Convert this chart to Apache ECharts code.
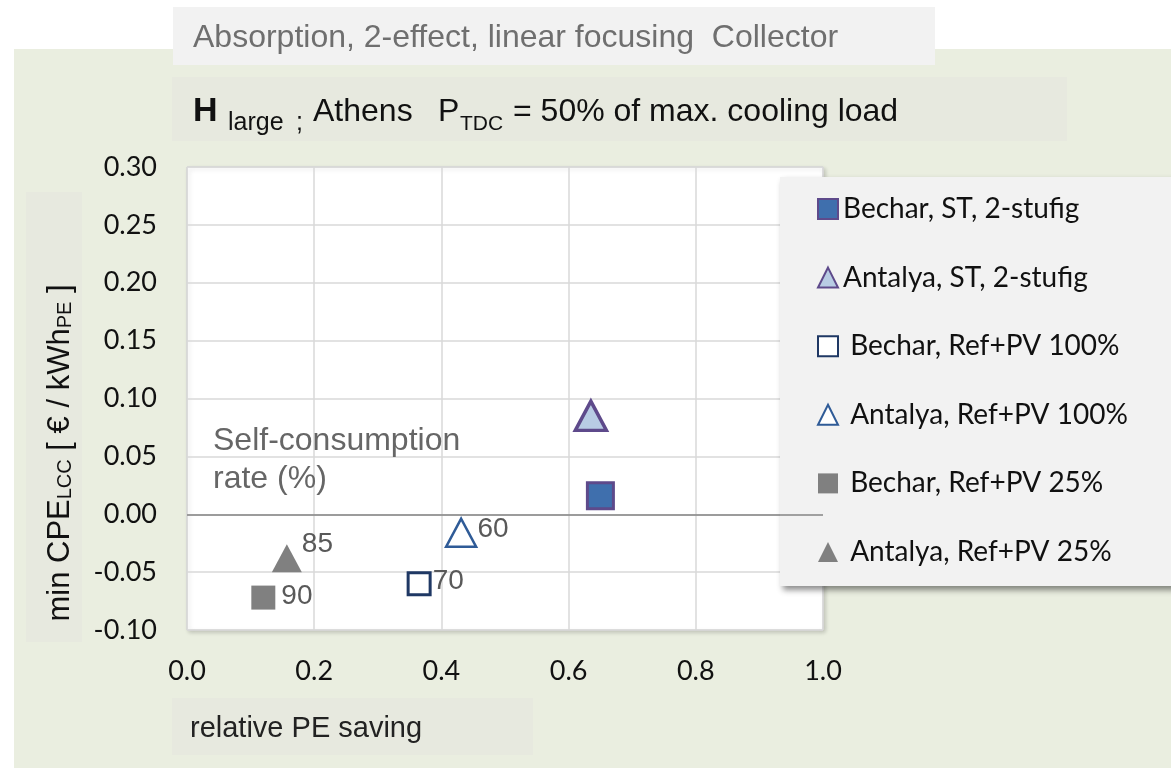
<!DOCTYPE html>
<html>
<head>
<meta charset="utf-8">
<script src="https://cdn.jsdelivr.net/npm/echarts@6/dist/echarts.min.js"></script>
<style>
html,body{margin:0;padding:0;background:#fff;}
#chart{width:1171px;height:768px;}
</style>
</head>
<body>
<div id="chart"></div>
<script>
// ---- data ----
const seriesNames = [
  'Bechar, ST, 2-stufig',
  'Antalya, ST, 2-stufig',
  'Bechar, Ref+PV 100%',
  'Antalya, Ref+PV 100%',
  'Bechar, Ref+PV 25%',
  'Antalya, Ref+PV 25%'
];
const peSaving = [0.650, 0.635, 0.365, 0.431, 0.120, 0.157];
const minCPE   = [0.016, 0.085, -0.060, -0.016, -0.072, -0.038];
const rateLabels = ['', '', '70', '60', '90', '85'];
const xTicks = [0.0, 0.2, 0.4, 0.6, 0.8, 1.0];
const yTicks = [-0.10, -0.05, 0.00, 0.05, 0.10, 0.15, 0.20, 0.25, 0.30];

// ---- styles ----
const styles = [
  {symbol:'rect', size:[26,26], fill:'#3f6fad', border:'#5e4a8b', bw:3, off:[0,0]},
  {symbol:'triangle', size:[31,29], fill:'#b8cce4', border:'#5e4a8b', bw:3.5, off:[0,0]},
  {symbol:'rect', size:[22,22], fill:'#ffffff', border:'#1f3864', bw:3, off:[-1,-2]},
  {symbol:'triangle', size:[30,28], fill:'#ffffff', border:'#2f5b97', bw:2.5, off:[-2,-3]},
  {symbol:'rect', size:[24,24], fill:'#808080', border:'#808080', bw:0, off:[4,-1]},
  {symbol:'triangle', size:[30,28], fill:'#808080', border:'#808080', bw:0, off:[-2,-14]}
];

const chart = echarts.init(document.getElementById('chart'), null, {renderer:'canvas'});

const series = seriesNames.map((name, i) => ({
  name: name,
  type: 'scatter',
  symbol: styles[i].symbol,
  symbolSize: styles[i].size,
  itemStyle: {color: styles[i].fill, borderColor: styles[i].border, borderWidth: styles[i].bw, opacity: 1},
  label: {
    show: rateLabels[i] !== '',
    position: 'right',
    distance: 2,
    offset: styles[i].off,
    formatter: () => rateLabels[i],
    fontFamily: 'Liberation Sans',
    fontSize: 28,
    color: '#595959'
  },
  emphasis: {disabled: true},
  z: 5,
  data: [[peSaving[i], minCPE[i]]],
  markLine: i === 0 ? {
    silent: true, symbol: 'none', label: {show: false},
    lineStyle: {color: '#858585', width: 1.5, type: 'solid'},
    data: [{yAxis: 0}]
  } : undefined
}));

const fontTick = 'Lato, "Open Sans", sans-serif';
const fontTxt = '"Liberation Sans"';

chart.setOption({
  animation: false,
  backgroundColor: '#ffffff',
  grid: {
    left: 187, top: 167, width: 636, height: 463,
    show: true, backgroundColor: '#ffffff',
    borderColor: '#cfcfcf', borderWidth: 1,
    shadowColor: 'rgba(0,0,0,0.18)', shadowBlur: 4, shadowOffsetX: 2, shadowOffsetY: 2,
    containLabel: false
  },
  xAxis: {
    type: 'value', min: 0, max: 1, interval: 0.2,
    axisLine: {show: false, onZero: false},
    axisTick: {show: false},
    splitLine: {show: true, lineStyle: {color: '#d9d9d9', width: 1.5}},
    axisLabel: {
      margin: 28, fontFamily: fontTick, fontSize: 27, color: '#111111',
      formatter: v => v.toFixed(1)
    }
  },
  yAxis: {
    type: 'value', min: -0.1, max: 0.3, interval: 0.05,
    axisLine: {show: false},
    axisTick: {show: false},
    splitLine: {show: true, lineStyle: {color: '#d9d9d9', width: 1.5}},
    axisLabel: {
      margin: 30, fontFamily: fontTick, fontSize: 27, color: '#111111',
      formatter: v => v.toFixed(2)
    }
  },
  legend: {
    orient: 'vertical',
    left: 780, top: 177,
    padding: [18, 62, 20, 37],
    backgroundColor: '#f2f2f2',
    shadowColor: 'rgba(0,0,0,0.45)', shadowBlur: 6, shadowOffsetX: 3, shadowOffsetY: 4,
    itemWidth: 20, itemHeight: 20, itemGap: 40.6,
    selectedMode: false,
    data: seriesNames,
    formatter: name => (seriesNames.indexOf(name) >= 2 ? ' ' : '') + name,
    textStyle: {fontFamily: fontTick, fontSize: 28, color: '#111111'}
  },
  graphic: [
    {type:'rect', z:-10, shape:{x:14, y:49, width:1157, height:719}, style:{fill:'#eaeee0'}},
    {type:'rect', z:-9, shape:{x:173, y:7, width:762, height:58}, style:{fill:'#f2f2f2'}},
    {type:'text', z:1, x: 193, y: 38, style:{text:'Absorption, 2-effect, linear focusing  Collector', font:'32px ' + fontTxt, fill:'#6f6f6f', verticalAlign:'middle'}},
    {type:'rect', z:-9, shape:{x:172, y:77, width:895, height:64}, style:{fill:'#e7e9df'}},
    {type:'text', z:1, x: 193, y: 111.5, style:{text:'H', font:'bold 34px ' + fontTxt, fill:'#111', verticalAlign:'middle'}},
    {type:'text', z:1, x: 228, y: 123.5, style:{text:'large', font:'25px ' + fontTxt, fill:'#111', verticalAlign:'middle'}},
    {type:'text', z:1, x: 296, y: 123.5, style:{text:';', font:'25px ' + fontTxt, fill:'#111', verticalAlign:'middle'}},
    {type:'text', z:1, x: 313, y: 112, style:{text:'Athens', font:'32px ' + fontTxt, fill:'#111', verticalAlign:'middle'}},
    {type:'text', z:1, x: 438, y: 112, style:{text:'P', font:'32px ' + fontTxt, fill:'#111', verticalAlign:'middle'}},
    {type:'text', z:1, x: 460, y: 124, style:{text:'TDC', font:'21px ' + fontTxt, fill:'#111', verticalAlign:'middle'}},
    {type:'text', z:1, x: 513, y: 112, style:{text:'= 50% of max. cooling load', font:'32px ' + fontTxt, fill:'#111', verticalAlign:'middle'}},
    {type:'rect', z:-9, shape:{x:26, y:192, width:56, height:450}, style:{fill:'#e7e9df'}},
    {type:'text', z:1, x: 59, y: 453, rotation: Math.PI/2, style:{
      text: '{m|min CPE}{s|LCC}{m| [ € / kWh}{s|PE}{m| ]}',
      align: 'center', verticalAlign: 'middle',
      rich: {
        m: {font:'31px ' + fontTxt, fill:'#111', verticalAlign:'bottom', lineHeight:33},
        s: {font:'20px ' + fontTxt, fill:'#111', verticalAlign:'bottom', lineHeight:16}
      }
    }},
    {type:'rect', z:-9, shape:{x:172, y:698, width:361, height:57}, style:{fill:'#e7e9df'}},
    {type:'text', z:1, x: 190, y: 729, style:{text:'relative PE saving', font:'29px ' + fontTxt, fill:'#222', verticalAlign:'middle'}},
    {type:'text', z:20, left: 213, top: 422, style:{text:'Self-consumption\nrate (%)', font:'32px ' + fontTxt, fill:'#666666', lineHeight: 38}}
  ],
  series: series
});
</script>
</body>
</html>
